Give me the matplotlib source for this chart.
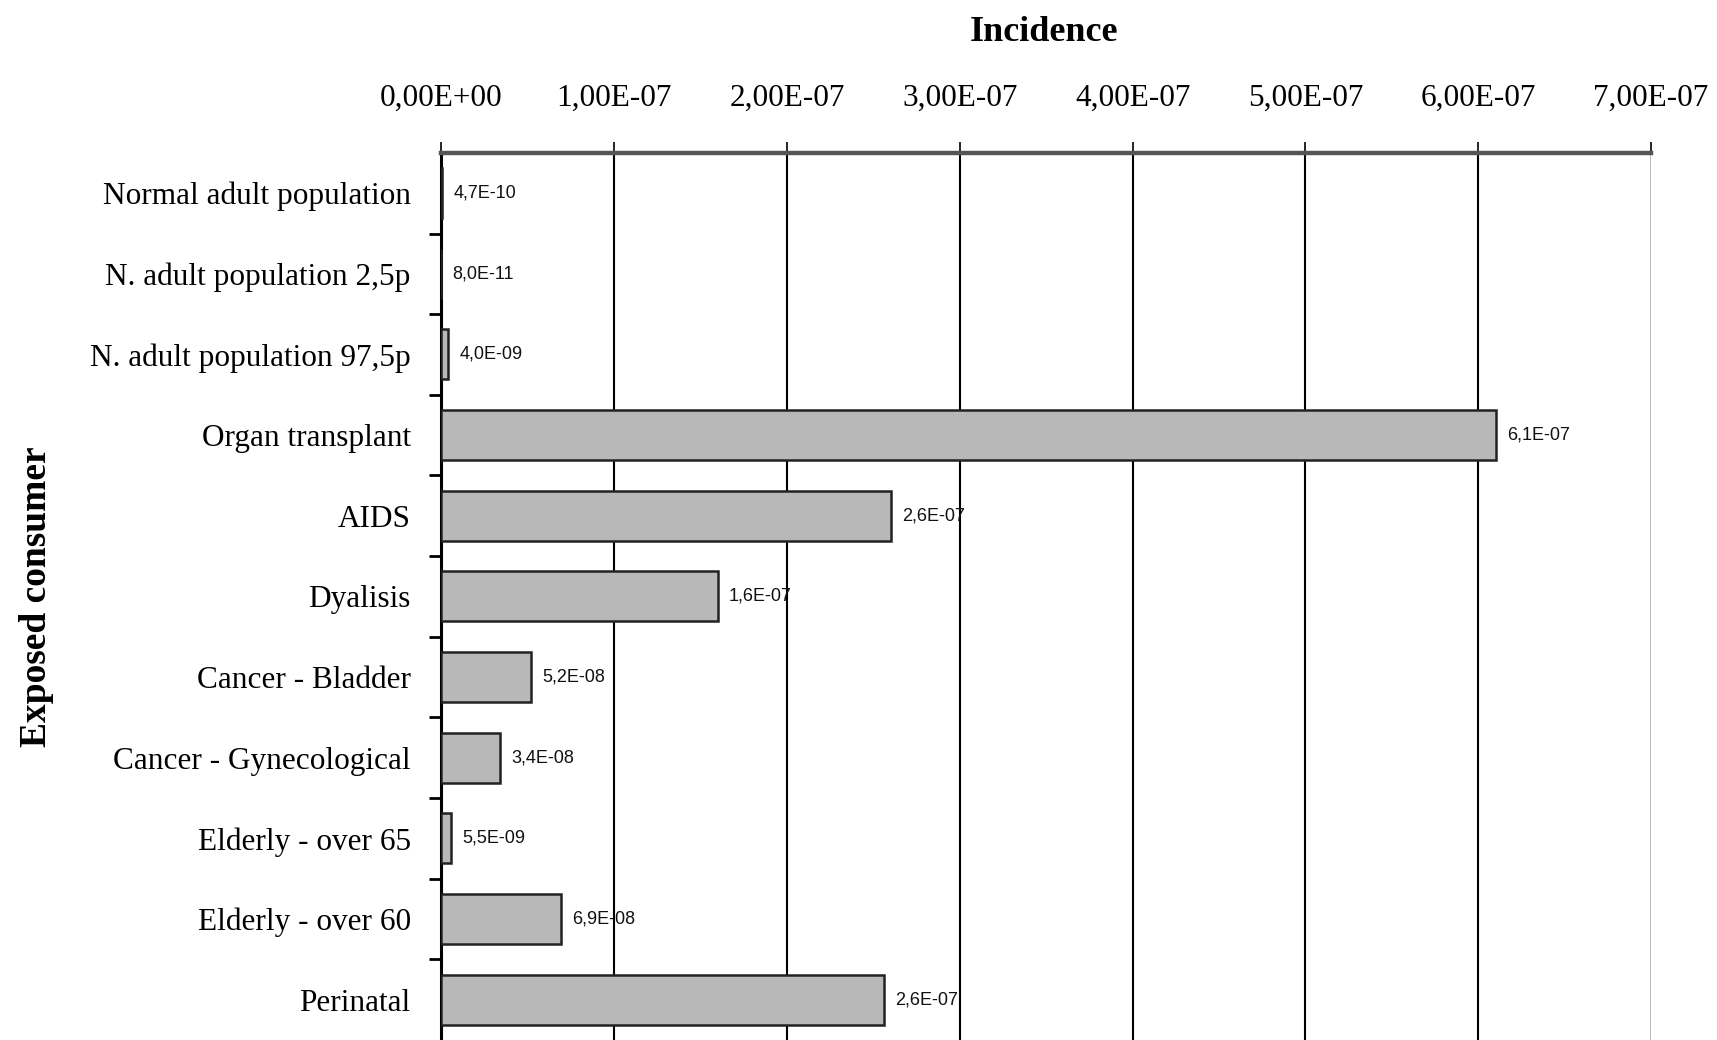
import numpy as np
import matplotlib.pyplot as plt
from matplotlib.ticker import FixedLocator

# Data
categories = ["Normal adult population", "N. adult population 2,5p",
              "N. adult population 97,5p", "Organ transplant", "AIDS",
              "Dyalisis", "Cancer - Bladder", "Cancer - Gynecological",
              "Elderly - over 65", "Elderly - over 60", "Perinatal"]
incidence = [4.7e-10, 8.0e-11, 4.0e-9, 6.1e-7, 2.6e-7, 1.6e-7,
             5.2e-8, 3.4e-8, 5.5e-9, 6.9e-8, 2.56e-7]
x_ticks = [0, 1e-7, 2e-7, 3e-7, 4e-7, 5e-7, 6e-7, 7e-7]
x_tick_labels = ["0,00E+00", "1,00E-07", "2,00E-07", "3,00E-07",
                 "4,00E-07", "5,00E-07", "6,00E-07", "7,00E-07"]

serif = ["Liberation Serif", "DejaVu Serif"]

fig = plt.figure(figsize=(17.17, 10.40), dpi=100)
ax = fig.add_axes([0.257, 0.0, 0.7046, 0.853])

y = np.arange(len(categories))
ax.barh(y, incidence, height=0.62, color="#b8b8b8", edgecolor="#222222",
        linewidth=1.8, zorder=3)

# value labels at the bar ends
for yi, v in zip(y, incidence):
    lbl = f"{v:.1E}".replace(".", ",")
    ax.annotate(lbl, (v, yi), xytext=(8, 0), textcoords="offset points",
                ha="left", va="center", fontsize=13, color="#111111",
                family=["Liberation Sans", "DejaVu Sans"], zorder=4)

ax.set_xlim(0, 7e-7)
ax.set_ylim(10.5, -0.5)

# vertical grid lines, the last one light grey
for xt in x_ticks[1:-1]:
    ax.axvline(xt, color="black", linewidth=1.5, zorder=1)
ax.axvline(x_ticks[-1], color="#bbbbbb", linewidth=2.2, zorder=1)

# x axis on top
ax.xaxis.tick_top()
ax.set_xticks(x_ticks)
ax.set_xticklabels(x_tick_labels, family=serif, fontsize=22.5)
ax.tick_params(axis="x", direction="out", length=8, width=1.2,
               color="black", pad=21)

# y labels at centres, tick marks at the boundaries
ax.set_yticks(y)
ax.set_yticklabels(categories, family=serif, fontsize=22.5)
ax.tick_params(axis="y", which="major", length=0, pad=22)
ax.yaxis.set_minor_locator(FixedLocator(np.arange(0.5, 10, 1.0)))
ax.tick_params(axis="y", which="minor", length=9, width=2, color="black")

for s in ["right", "bottom"]:
    ax.spines[s].set_visible(False)
ax.spines["top"].set_color("#555555")
ax.spines["top"].set_linewidth(3.2)
ax.spines["left"].set_color("black")
ax.spines["left"].set_linewidth(2.2)

fig.text(0.608, 0.969, "Incidence", ha="center", va="center",
         family=serif, fontsize=26, fontweight="bold")
fig.text(0.021, 0.426, "Exposed consumer", ha="center", va="center",
         rotation=90, family=serif, fontsize=27, fontweight="bold")

fig.savefig("out.png", dpi=100)
